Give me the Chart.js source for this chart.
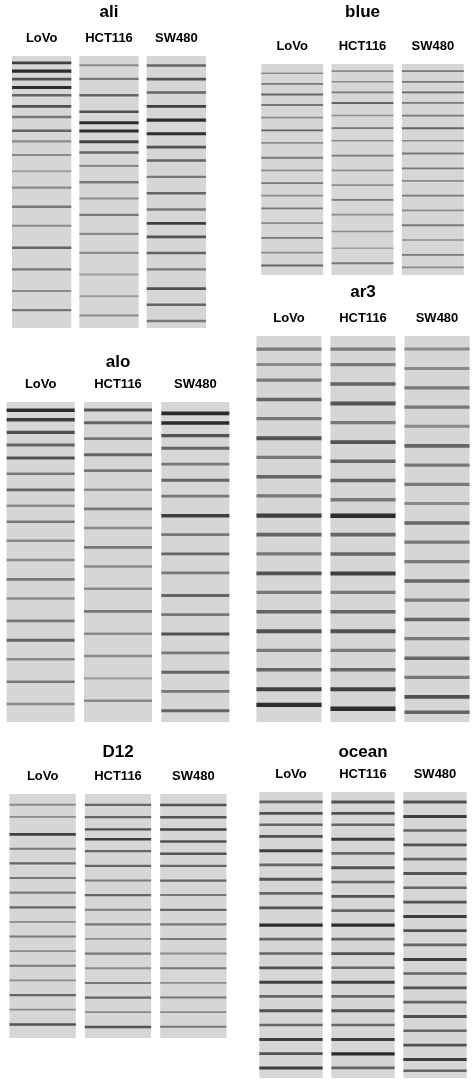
<!DOCTYPE html>
<html>
<head>
<meta charset="utf-8">
<script src="https://cdn.jsdelivr.net/npm/chart.js@4.4.1/dist/chart.umd.min.js"></script>
<style>
body{margin:0;background:#fff;width:474px;height:1082px;position:relative;overflow:hidden}
.p{position:absolute}
</style>
</head>
<body>
<div class="p" id="ali" style="left:8px;top:0;width:202px;height:328px"><canvas></canvas></div>
<div class="p" id="blue" style="left:257px;top:0;width:211px;height:275px"><canvas></canvas></div>
<div class="p" id="alo" style="left:2px;top:350px;width:232px;height:372px"><canvas></canvas></div>
<div class="p" id="ar3" style="left:252px;top:280px;width:222px;height:442px"><canvas></canvas></div>
<div class="p" id="D12" style="left:5px;top:740px;width:226px;height:298px"><canvas></canvas></div>
<div class="p" id="ocean" style="left:255px;top:740px;width:216px;height:338px"><canvas></canvas></div>
<script>
// lanes
const laneNames = ['LoVo', 'HCT116', 'SW480'];

// band positions (% down the lane) and darkness 0..1
const aliBands = [
  [[2,.8],[5,.9],[8,.7],[11,.9],[14,.6],[18,.7],[22,.5],[27,.6],[31,.4],[36,.4],[42,.3],[48,.4],[55,.5],[62,.4],[70,.6],[78,.5],[86,.4],[93,.5]],
  [[3,.4],[8,.5],[14,.6],[20,.7],[24,.9],[27,.9],[31,.8],[35,.6],[40,.4],[46,.5],[52,.4],[58,.5],[65,.4],[72,.4],[80,.3],[88,.3],[95,.4]],
  [[3,.6],[8,.7],[13,.6],[18,.8],[23,.9],[28,.9],[33,.7],[38,.6],[44,.5],[50,.6],[56,.5],[61,.8],[66,.7],[72,.6],[78,.5],[85,.7],[91,.6],[97,.5]]
];
const blueBands = [
  [[4,.4],[9,.5],[14,.6],[19,.5],[25,.4],[31,.6],[37,.4],[44,.5],[50,.4],[56,.5],[62,.4],[68,.5],[75,.4],[82,.5],[89,.4],[95,.6]],
  [[3,.4],[8,.4],[13,.5],[18,.6],[24,.4],[30,.5],[36,.4],[43,.5],[50,.4],[57,.4],[64,.5],[71,.4],[79,.4],[87,.3],[94,.5]],
  [[3,.5],[8,.5],[13,.6],[18,.5],[24,.5],[30,.6],[36,.4],[42,.5],[49,.5],[55,.4],[62,.5],[69,.4],[76,.5],[83,.4],[90,.5],[96,.4]]
];
const aloBands = [
  [[2,.9],[5,.8],[9,.7],[13,.6],[17,.7],[22,.5],[27,.6],[32,.4],[37,.5],[43,.4],[49,.4],[55,.5],[61,.4],[68,.5],[74,.6],[80,.4],[87,.5],[94,.4]],
  [[2,.7],[6,.6],[11,.5],[16,.6],[21,.5],[27,.4],[33,.5],[39,.4],[45,.5],[51,.4],[58,.4],[65,.5],[72,.4],[79,.4],[86,.3],[93,.4]],
  [[3,.9],[6,.9],[10,.7],[14,.6],[19,.5],[24,.6],[29,.5],[35,.8],[41,.5],[47,.6],[53,.5],[60,.6],[66,.5],[72,.7],[78,.5],[84,.6],[90,.5],[96,.6]]
];
const ar3Bands = [
  [[3,.5],[7,.4],[11,.5],[16,.6],[21,.5],[26,.7],[31,.5],[36,.6],[41,.5],[46,.8],[51,.6],[56,.5],[61,.7],[66,.5],[71,.6],[76,.7],[81,.5],[86,.6],[91,.8],[95,.9]],
  [[3,.5],[7,.5],[12,.6],[17,.7],[22,.5],[27,.7],[32,.6],[37,.6],[42,.5],[46,.9],[51,.6],[56,.6],[61,.8],[66,.5],[71,.6],[76,.7],[81,.5],[86,.6],[91,.8],[96,.9]],
  [[3,.4],[8,.4],[13,.5],[18,.5],[23,.4],[28,.6],[33,.5],[38,.5],[43,.4],[48,.6],[53,.5],[58,.5],[63,.6],[68,.5],[73,.6],[78,.5],[83,.6],[88,.5],[93,.7],[97,.6]]
];
const d12Bands = [
  [[4,.4],[9,.4],[16,.8],[22,.5],[28,.6],[34,.5],[40,.5],[46,.6],[52,.4],[58,.5],[64,.4],[70,.5],[76,.4],[82,.6],[88,.4],[94,.7]],
  [[4,.6],[9,.6],[14,.7],[18,.8],[23,.6],[29,.6],[35,.5],[41,.6],[47,.5],[53,.5],[59,.4],[65,.5],[71,.4],[77,.5],[83,.6],[89,.4],[95,.7]],
  [[4,.7],[9,.7],[14,.8],[19,.7],[24,.7],[29,.6],[35,.6],[41,.5],[47,.6],[53,.5],[59,.5],[65,.4],[71,.5],[77,.4],[83,.5],[89,.4],[95,.5]]
];
const oceanBands = [
  [[3,.6],[7,.7],[11,.6],[15,.7],[20,.8],[25,.6],[30,.7],[35,.6],[40,.7],[46,.9],[51,.6],[56,.6],[61,.7],[66,.8],[71,.6],[76,.7],[81,.6],[86,.8],[91,.7],[96,.8]],
  [[3,.7],[7,.7],[11,.6],[16,.8],[21,.6],[26,.7],[31,.6],[36,.7],[41,.6],[46,.9],[51,.6],[56,.7],[61,.6],[66,.8],[71,.6],[76,.7],[81,.6],[86,.8],[91,.9],[96,.6]],
  [[3,.7],[8,.8],[13,.6],[18,.7],[23,.6],[28,.7],[33,.6],[38,.7],[43,.8],[48,.7],[53,.6],[58,.8],[63,.6],[68,.7],[73,.6],[78,.7],[83,.6],[88,.7],[93,.8],[97,.6]]
];

const panelBands = { ali: aliBands, blue: blueBands, alo: aloBands, ar3: ar3Bands, D12: d12Bands, ocean: oceanBands };
const titlePad = { ali: 6, blue: 14, alo: 2, ar3: 6, D12: 4, ocean: 2 };

function drawPanel(name) {
  const bands = panelBands[name];
  const datasets = [{
    data: laneNames.map(() => [0, 100]),
    backgroundColor: '#d6d6d6',
    grouped: false, borderWidth: 0, order: 100,
    barPercentage: 0.88, categoryPercentage: 1
  }];
  const nMax = Math.max(...bands.map(b => b.length));
  for (let k = 0; k < nMax; k++) {
    datasets.push({
      data: bands.map(b => b[k] ? [b[k][0], b[k][0] + 0.5 + b[k][1] * 0.7] : null),
      backgroundColor: bands.map(b => b[k] ? 'rgba(25,25,25,' + b[k][1] + ')' : 'transparent'),
      grouped: false, borderWidth: 0, order: 1,
      barPercentage: 0.88, categoryPercentage: 1
    });
  }
  new Chart(document.querySelector('#' + name + ' canvas'), {
    type: 'bar',
    data: { labels: laneNames, datasets: datasets },
    options: {
      responsive: true, maintainAspectRatio: false, animation: false,
      layout: { padding: 0 },
      plugins: {
        legend: { display: false }, tooltip: { enabled: false },
        title: { display: true, text: name, color: '#000',
          font: { family: 'Liberation Sans', size: 17, weight: 'bold' },
          padding: { top: 2, bottom: titlePad[name] } }
      },
      scales: {
        x: { position: 'top', grid: { display: false }, border: { display: false },
          ticks: { color: '#000', font: { family: 'Liberation Sans', size: 13, weight: 'bold' }, padding: 2 } },
        y: { display: false, reverse: true, min: 0, max: 100 }
      }
    }
  });
}

Object.keys(panelBands).forEach(drawPanel);
</script>
</body>
</html>
